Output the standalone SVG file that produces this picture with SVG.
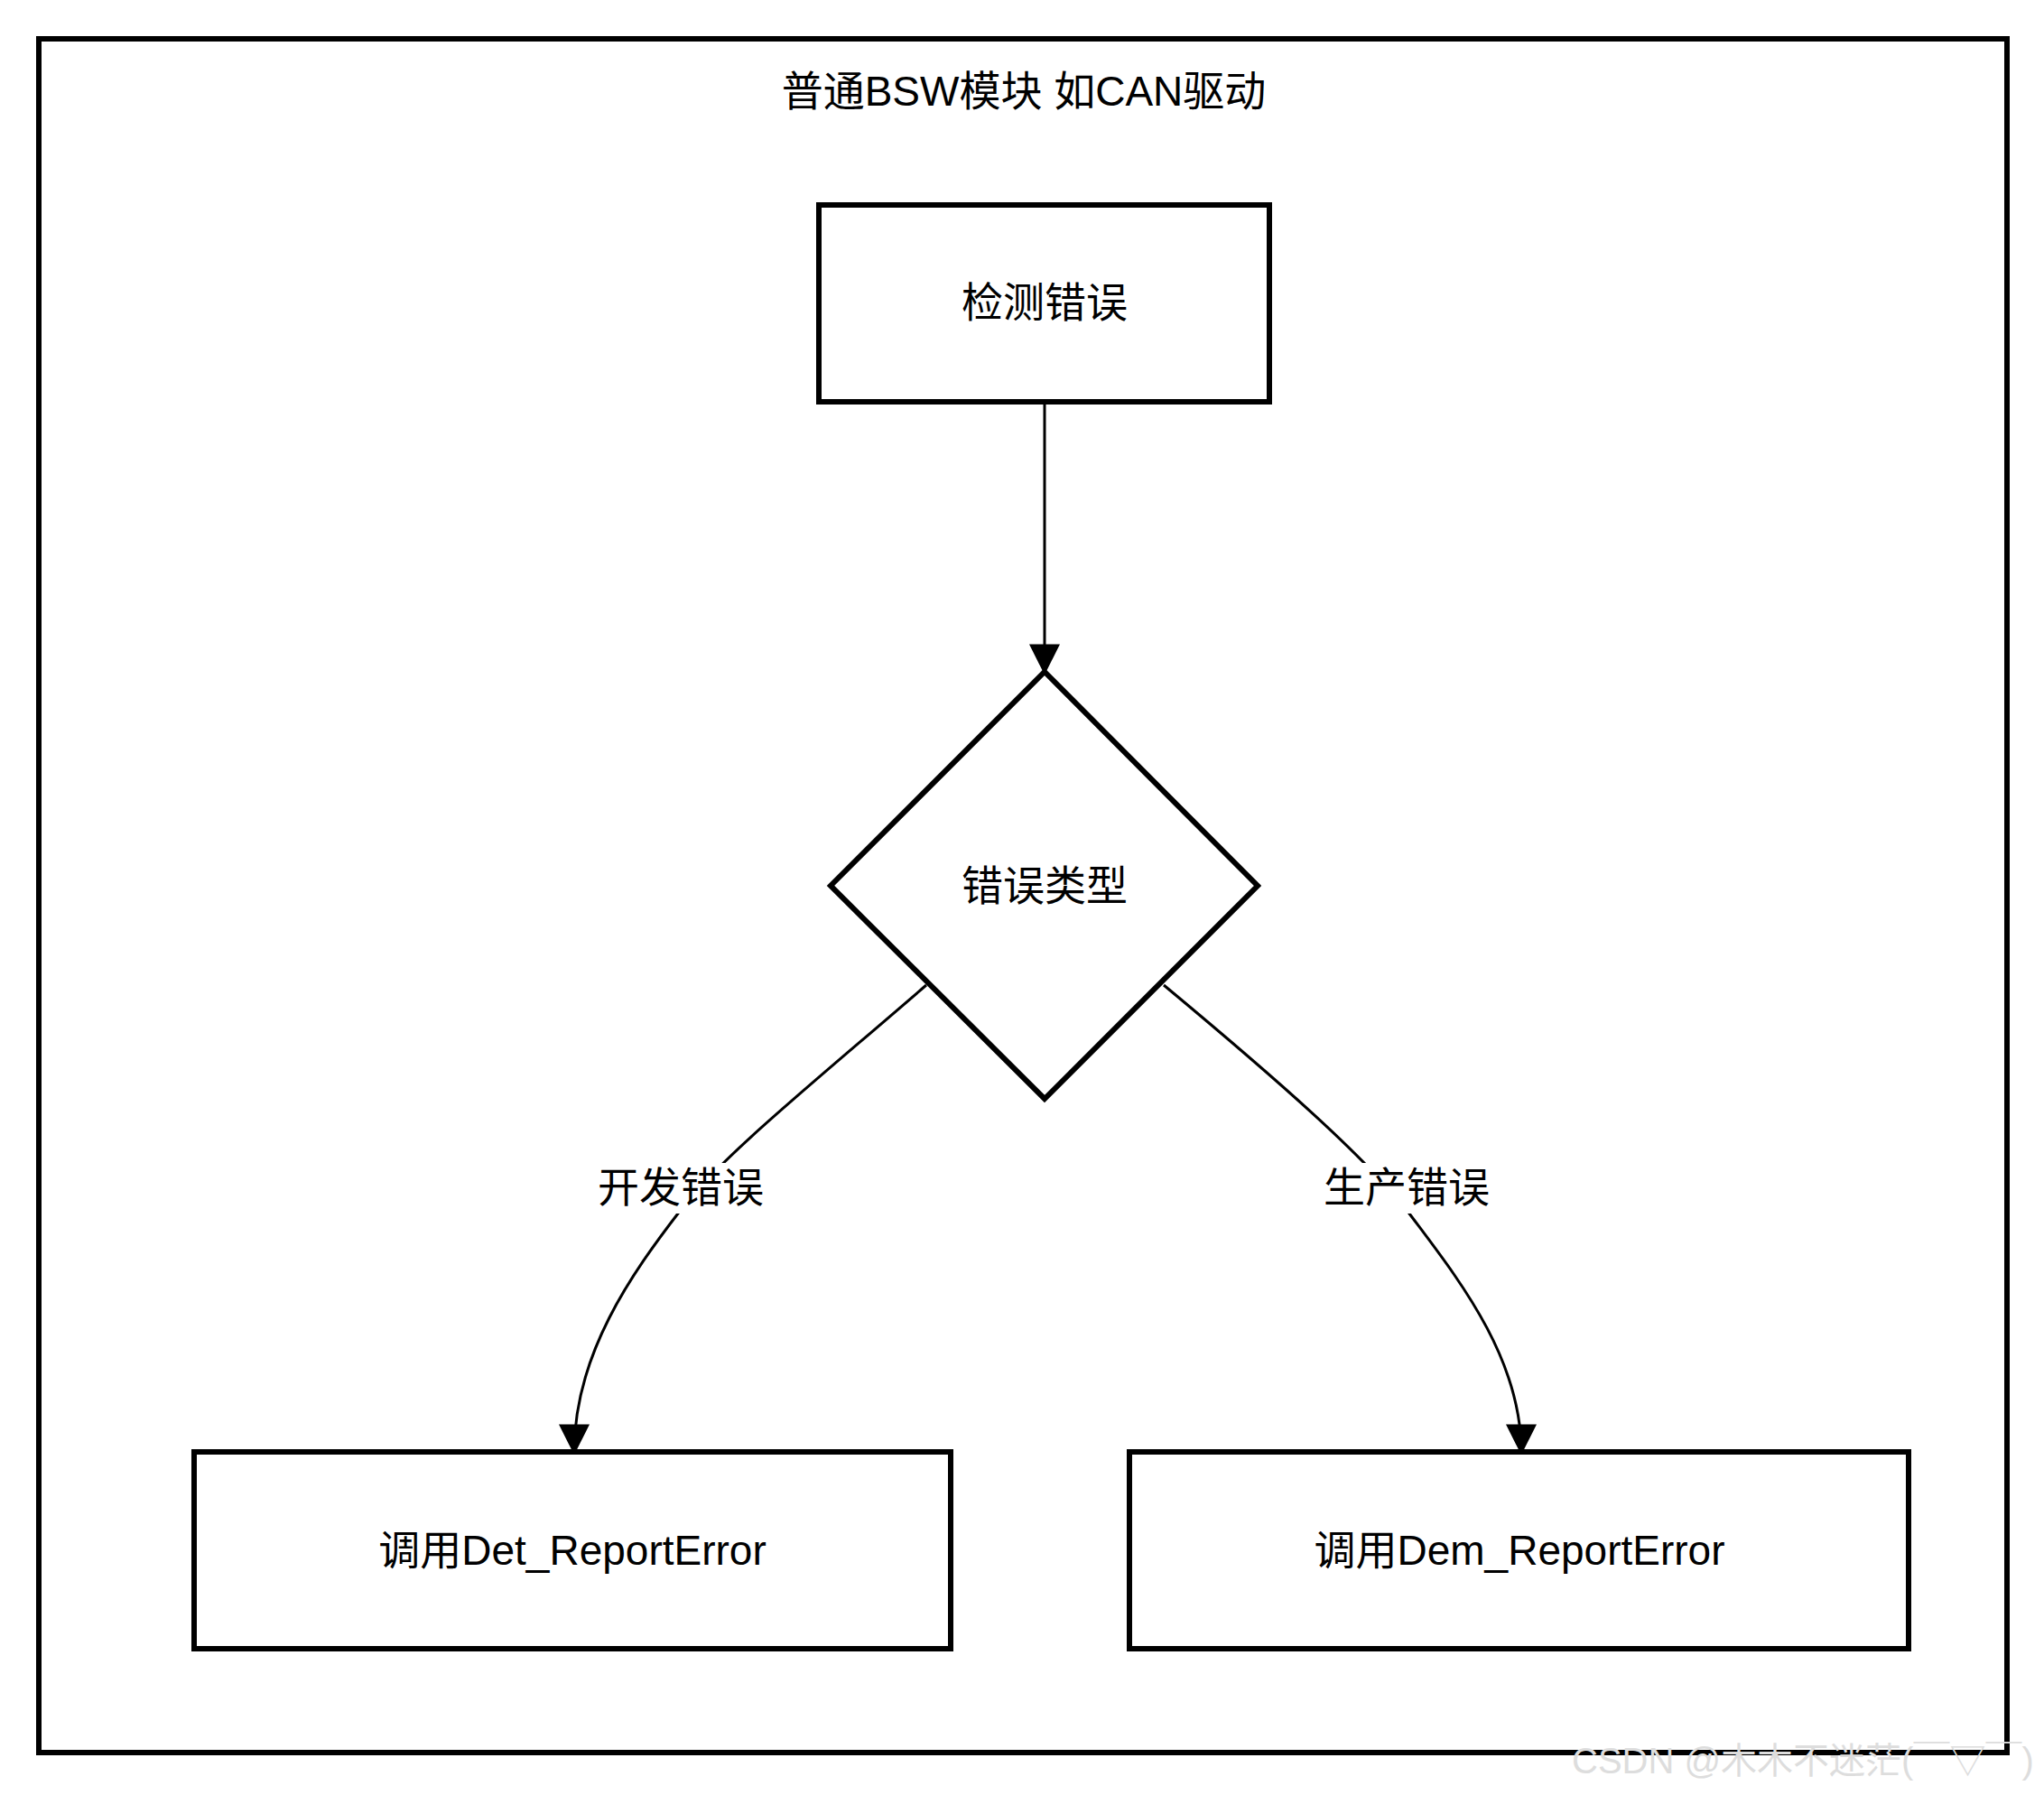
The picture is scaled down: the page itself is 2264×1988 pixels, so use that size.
<svg xmlns="http://www.w3.org/2000/svg" width="2264" height="1988" viewBox="0 0 2264 1988">
<style>
.box{fill:#fff;stroke:#000;stroke-width:6}
.t{font-family:"Liberation Sans","Noto Sans CJK SC",sans-serif;font-size:46px;fill:#000;text-anchor:middle;dominant-baseline:central}
.e{fill:none;stroke:#000;stroke-width:3}
</style>
<defs><marker id="a" viewBox="0 0 10 10" refX="9" refY="5" markerWidth="11" markerHeight="11" markerUnits="userSpaceOnUse" orient="auto"><path d="M0,0L10,5L0,10z" fill="#000"/></marker>
<marker id="b" viewBox="0 0 10 10" refX="9" refY="5" markerWidth="34" markerHeight="34" markerUnits="userSpaceOnUse" orient="auto"><path d="M0,0L10,5L0,10z" fill="#000"/></marker></defs>
<rect width="2264" height="1988" fill="#fff"/>
<g id="container"><rect x="43" y="43" width="2180" height="1898" class="box"/><text class="t" x="1134" y="101">普通BSW模块 如CAN驱动</text></g>
<g id="connectors">
<path class="e" d="M1157,445V744" marker-end="url(#b)"/>
<path class="e" d="M1026,1091C900,1200 800,1280 754,1340C700,1410 636,1500 636,1608" marker-end="url(#b)"/>
<path class="e" d="M1289,1091C1420,1200 1510,1280 1558,1340C1610,1410 1685,1500 1685,1608" marker-end="url(#b)"/>
<rect x="660" y="1288" width="190" height="56" fill="#fff"/>
<text class="t" x="754" y="1315">开发错误</text>
<rect x="1463" y="1288" width="190" height="56" fill="#fff"/>
<text class="t" x="1558" y="1315">生产错误</text>
</g>
<g id="detect"><rect x="907" y="227" width="499" height="218" class="box"/><text class="t" x="1157" y="335">检测错误</text></g>
<g id="type"><path class="box" d="M1157,744L1393,981L1157,1217L920,981Z"/><text class="t" x="1157" y="981">错误类型</text></g>
<g id="det"><rect x="215" y="1608" width="838" height="218" class="box"/><text class="t" x="634" y="1717">调用Det_ReportError</text></g>
<g id="dem"><rect x="1251" y="1608" width="863" height="218" class="box"/><text class="t" x="1683" y="1717">调用Dem_ReportError</text></g>
<text x="1741" y="1964" font-family="Liberation Sans,Noto Sans CJK SC,sans-serif" font-size="40" fill="#ddd">CSDN @木木不迷茫(￣▽￣)</text>
</svg>
